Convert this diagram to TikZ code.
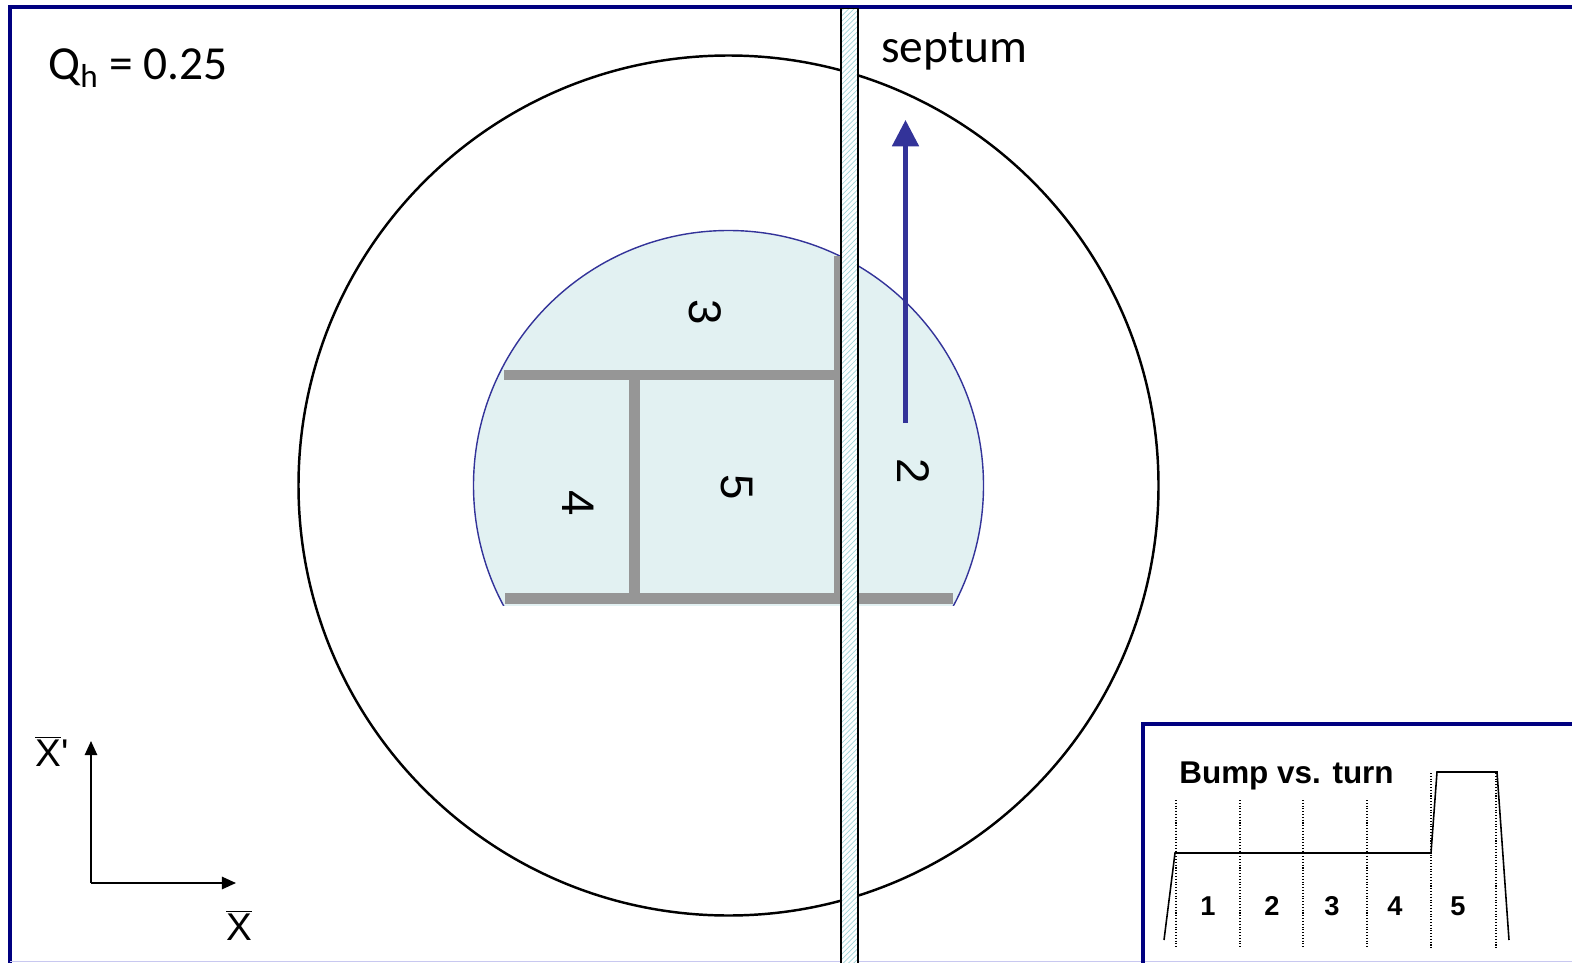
\documentclass[tikz,border=0pt]{standalone}
\usepackage{fontspec}
\setmainfont{Carlito}
\newfontfamily\arialfont{Liberation Sans}
\usepackage{tikz}
\usetikzlibrary{positioning,arrows.meta,patterns}
\definecolor{frameblue}{HTML}{000080}
\definecolor{arcblue}{HTML}{333399}
\definecolor{beamfill}{HTML}{E2F1F2}
\definecolor{bargray}{HTML}{969696}
\definecolor{hatchcol}{HTML}{A0D4D8}
\definecolor{lavender}{HTML}{C8C8F0}
\tikzset{
  frame/.style={draw=frameblue,line width=2.2pt},
  bar/.style={draw=bargray,line width=6.2pt},
  slot/.style={font=\arialfont\fontsize{26}{26}\selectfont,rotate=-90,inner sep=0pt},
  bin/.style={font=\arialfont\bfseries\fontsize{15.5}{15.5}\selectfont,inner sep=0pt},
  axis/.style={-{Triangle[length=8pt,width=7pt]},line width=1.1pt},
  divider/.style={densely dotted,line width=0.6pt},
}

\begin{document}
\begin{tikzpicture}[x=0.02cm,y=-0.02cm]
\useasboundingbox (0,0) rectangle (1572,963);
% outer frame
\draw[frame] (10,963) -- (10,7) -- (1572,7);
\draw[lavender,line width=0.9pt] (10,961.5) -- (1572,961.5);
% acceptance circle
\draw[line width=1.4pt] (728.5,485.5) circle (430);
% beam at injection
\begin{scope}
  \clip (0,0) rectangle (1572,605);
  \filldraw[fill=beamfill,draw=arcblue,line width=0.8pt] (728.5,485.5) circle (255);
\end{scope}
\draw[bar] (504,375) -- (837,375);
\draw[bar] (505,598.5) -- (953,598.5);
\draw[bar] (634.5,375) -- (634.5,598.5);
\draw[bar] (839,256) -- (839,598.5);
\node[slot] (s3) at (705,312) {3};
\node[slot] (s4) at (578,503) {4};
\node[slot] (s5) at (737,487) {5};
\node[slot] (s2) at (913,471) {2};
% kick direction
\coordinate (kfrom) at (905.5,423);
\coordinate (kto) at (905.5,120);
\draw[arcblue,line width=2.3pt,-{Triangle[length=15pt,width=15pt]}] (kfrom) -- (kto);
% septum
\draw[line width=0.9pt,preaction={fill=white},pattern=north east lines,pattern color=hatchcol] (841,8.5) rectangle (858,970);
\node[anchor=base west,inner sep=0pt,font=\fontsize{27}{27}\selectfont] (sep) at (881,62.5) {septum};
\node[anchor=base west,inner sep=0pt,font=\fontsize{27}{27}\selectfont] (tune) at (48,80) {Q\textsubscript{h} = 0.25};
% phase space axes
\coordinate (orig) at (91,883);
\coordinate (xend) at (236,883);
\coordinate (yend) at (91,741);
\draw[axis] (orig) -- (xend);
\draw[axis] (orig) -- (yend);
\node[font=\arialfont\fontsize{22}{22}\selectfont,inner sep=0pt] (xlab) at (239,925) {$\overline{\hbox{X}}$};
\node[font=\arialfont\fontsize{22}{22}\selectfont,inner sep=0pt] (xplab) at (52,751) {$\overline{\hbox{X}}$'};
% inset: bump vs. turn
\draw[frame,line width=1.8pt] (1143,963) -- (1143,724) -- (1572,724);
\node[anchor=base west,inner sep=0pt,font=\arialfont\bfseries\fontsize{17.9}{17.9}\selectfont] (bump) at (1179,783) {Bump vs. turn};
\foreach \x in {1176,1240,1303,1367} \draw[divider] (\x,800) -- (\x,948);
\foreach \x in {1431,1496} \draw[divider] (\x,773) -- (\x,948);
\draw[line width=0.9pt] (1164,940) -- (1175,853) -- (1431,853) -- (1437,772) -- (1497,772) -- (1509,940);
\foreach \n/\x in {1/1208,2/1272,3/1332,4/1395,5/1458} \node[bin] (b\n) at (\x,906) {\n};
\end{tikzpicture}
\end{document}
